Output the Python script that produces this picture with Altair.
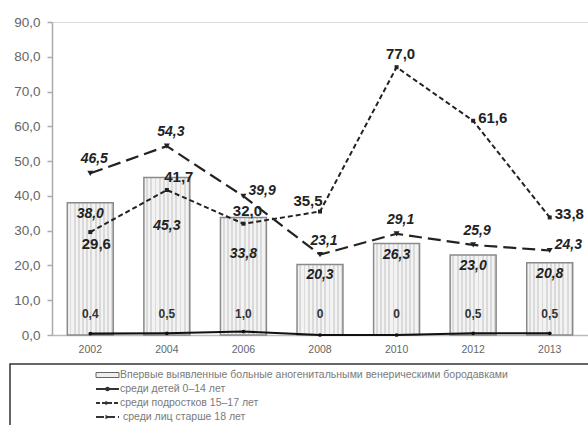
import altair as alt
import pandas as pd

# ---------------- data ----------------
years = ["2002", "2004", "2006", "2008", "2010", "2012", "2013"]
bars_first = [38.0, 45.3, 33.8, 20.3, 26.3, 23.0, 20.8]
children_0_14 = [0.4, 0.5, 1.0, 0, 0, 0.5, 0.5]
teens_15_17 = [29.6, 41.7, 32.0, 35.5, 77.0, 61.6, 33.8]
adults_18 = [46.5, 54.3, 39.9, 23.1, 29.1, 25.9, 24.3]
y_ticks = [0, 10, 20, 30, 40, 50, 60, 70, 80, 90]
legend_labels = [
    "Впервые выявленные больные аногенитальными венерическими бородавками",
    "среди детей 0–14 лет",
    "среди подростков 15–17 лет",
    "среди лиц старше 18 лет",
]

df = pd.DataFrame({
    "year": years,
    "bars": bars_first,
    "children": children_0_14,
    "teens": teens_15_17,
    "adults": adults_18,
})

W, H = 536, 313
FMT = "replace(format(datum.{f}, '.1f'), '.', ',')"
INK = "#222222"

x_enc = alt.X(
    "year:N", sort=years,
    scale=alt.Scale(paddingInner=0.4, paddingOuter=0.2),
    axis=alt.Axis(title=None, ticks=False, labelAngle=0, labelFontSize=10.5,
                  labelColor="#666666", labelPadding=9, domainColor="#bbbbbb",
                  domainWidth=1.5),
)
y_scale = alt.Scale(domain=[0, 90], nice=False)
y_axis = alt.Axis(values=y_ticks, title=None, grid=False, labelOverlap=False,
                  labelFlush=False, tickCount=10,
                  labelExpr="replace(format(datum.value, '.1f'), '.', ',')",
                  labelFontSize=13.5, labelColor="#666666", labelPadding=7,
                  tickSize=5, tickColor="#aaaaaa", domainColor="#aaaaaa",
                  domainWidth=1.5, tickWidth=1.5)


def Y(field):
    return alt.Y(f"{field}:Q", scale=y_scale, axis=y_axis)


base = alt.Chart(df)

# striped light fill for the bars
stops = []
n_str = 11
for i in range(n_str):
    a = i / n_str
    b = (i + 0.55) / n_str
    c = (i + 1) / n_str
    stops += [alt.GradientStop(offset=a, color="#f3f3f3"),
              alt.GradientStop(offset=b, color="#f3f3f3"),
              alt.GradientStop(offset=b, color="#dadada"),
              alt.GradientStop(offset=c, color="#dadada")]
stripe = alt.Gradient(gradient="linear", stops=stops, x1=0, x2=1, y1=0, y2=0)

bars = base.mark_bar(color=stripe, stroke="#8a8a8a", strokeWidth=1.5).encode(
    x=x_enc, y=Y("bars"))

children_line = base.mark_line(color="#111111", strokeWidth=2.2).encode(
    x=x_enc, y=Y("children"))
children_pts = base.mark_point(shape="circle", filled=True, size=14, color="#111111", opacity=1).encode(
    x=x_enc, y=Y("children"))

teens_line = base.mark_line(color=INK, strokeWidth=2, strokeDash=[5, 3]).encode(
    x=x_enc, y=Y("teens"))
teens_pts = base.mark_point(shape="square", filled=True, size=16, color=INK, opacity=1).encode(
    x=x_enc, y=Y("teens"))

adults_line = base.mark_line(color=INK, strokeWidth=2.2, strokeDash=[13, 6]).encode(
    x=x_enc, y=Y("adults"))
adults_pts = base.mark_point(shape="triangle-down", filled=True, size=36, color=INK, opacity=1).encode(
    x=x_enc, y=Y("adults"))


def labels(field, subset, dx, dy, align="center", size=14, italic=False):
    mk = dict(align=align, baseline="middle", dx=dx, dy=dy, fontSize=size,
              fontWeight="bold", color=INK)
    if italic:
        mk["fontStyle"] = "italic"
    ch = base.transform_filter(
        alt.FieldOneOfPredicate(field="year", oneOf=subset)
    ).transform_calculate(lbl=FMT.format(f=field))
    return ch.mark_text(**mk).encode(x=x_enc, y=Y(field), text="lbl:N")


# bar labels
bar_lbl_a = labels("bars", ["2002", "2008", "2010", "2012", "2013"], 0, 11, italic=True)
bar_lbl_b = base.transform_filter(
    alt.FieldOneOfPredicate(field="year", oneOf=["2004", "2006"])
).transform_calculate(
    lbl=FMT.format(f="bars"), ypos="datum.bars * 0.69"
).mark_text(baseline="middle", fontSize=14, fontWeight="bold", fontStyle="italic", color=INK).encode(
    x=x_enc, y=Y("ypos"), text="lbl:N")

# children labels (just above the axis)
child_lbl = base.transform_calculate(
    lbl="datum.children == 0 ? '0' : replace(format(datum.children, '.1f'), '.', ',')",
    ybase="0"
).mark_text(baseline="middle", fontSize=12, fontWeight="bold", color="#333333", dy=-21).encode(
    x=x_enc, y=Y("ybase"), text="lbl:N")

# teens labels
teen_above = labels("teens", ["2006", "2010"], 4, -13, size=15)
teen_above_r = labels("teens", ["2004"], 12, -13, size=15)
teen_left = labels("teens", ["2008"], -12, -11, size=15)
teen_below = labels("teens", ["2002"], 6, 12, size=15)
teen_right = labels("teens", ["2012", "2013"], 5, -3, align="left", size=15)

# adults labels
adult_above = labels("adults", ["2002", "2004", "2008", "2010", "2012"], 4, -14, italic=True)
adult_right = labels("adults", ["2006", "2013"], 5, -5, align="left", italic=True)

# ---------------- custom legend box below the chart ----------------
one = pd.DataFrame({"k": [0]})
LX0, LX1, LT = 44, 67, 68
row_y = [353, 367, 381, 395]

box = alt.Chart(one).mark_rect(fillOpacity=0, stroke="#333333", strokeWidth=1.5).encode(
    x=alt.value(-42), x2=alt.value(560), y=alt.value(342), y2=alt.value(430))

leg_items = [box]
leg_items.append(alt.Chart(one).mark_rect(fill="#eeeeee", stroke="#666666", strokeWidth=1).encode(
    x=alt.value(LX0), x2=alt.value(LX1), y=alt.value(row_y[0] - 2.5), y2=alt.value(row_y[0] + 2.5)))
dashes = [None, [1, 0], [4, 2], [8, 3]]
shapes = [None, "circle", "triangle-right", "triangle-right"]
for i in (1, 2, 3):
    leg_items.append(alt.Chart(one).mark_rule(color="#333333", strokeWidth=2, strokeDash=dashes[i]).encode(
        x=alt.value(LX0), x2=alt.value(LX1), y=alt.value(row_y[i])))
    leg_items.append(alt.Chart(one).mark_point(shape=shapes[i], filled=True, size=22, color="#333333", opacity=1).encode(
        x=alt.value((LX0 + LX1) / 2), y=alt.value(row_y[i])))
for i, t in enumerate(legend_labels):
    leg_items.append(alt.Chart(pd.DataFrame({"t": [t]})).mark_text(
        align="left", baseline="middle", fontSize=10.5, color="#7a7a7a").encode(
        x=alt.value(LT + (3 if i == 3 else 0)), y=alt.value(row_y[i]), text="t:N"))

chart = alt.layer(
    bars, bar_lbl_a, bar_lbl_b,
    children_line, children_pts,
    teens_line, teens_pts,
    adults_line, adults_pts,
    child_lbl,
    teen_above, teen_above_r, teen_left, teen_below, teen_right,
    adult_above, adult_right,
    *leg_items,
).properties(
    width=W, height=H,
    autosize=alt.AutoSizeParams(type="none"),
    padding={"left": 52, "top": 22, "right": 0, "bottom": 90},
).configure_view(stroke=None).configure(font="Liberation Sans")

chart.save("out.html", embed_options={"renderer": "svg", "actions": False})
